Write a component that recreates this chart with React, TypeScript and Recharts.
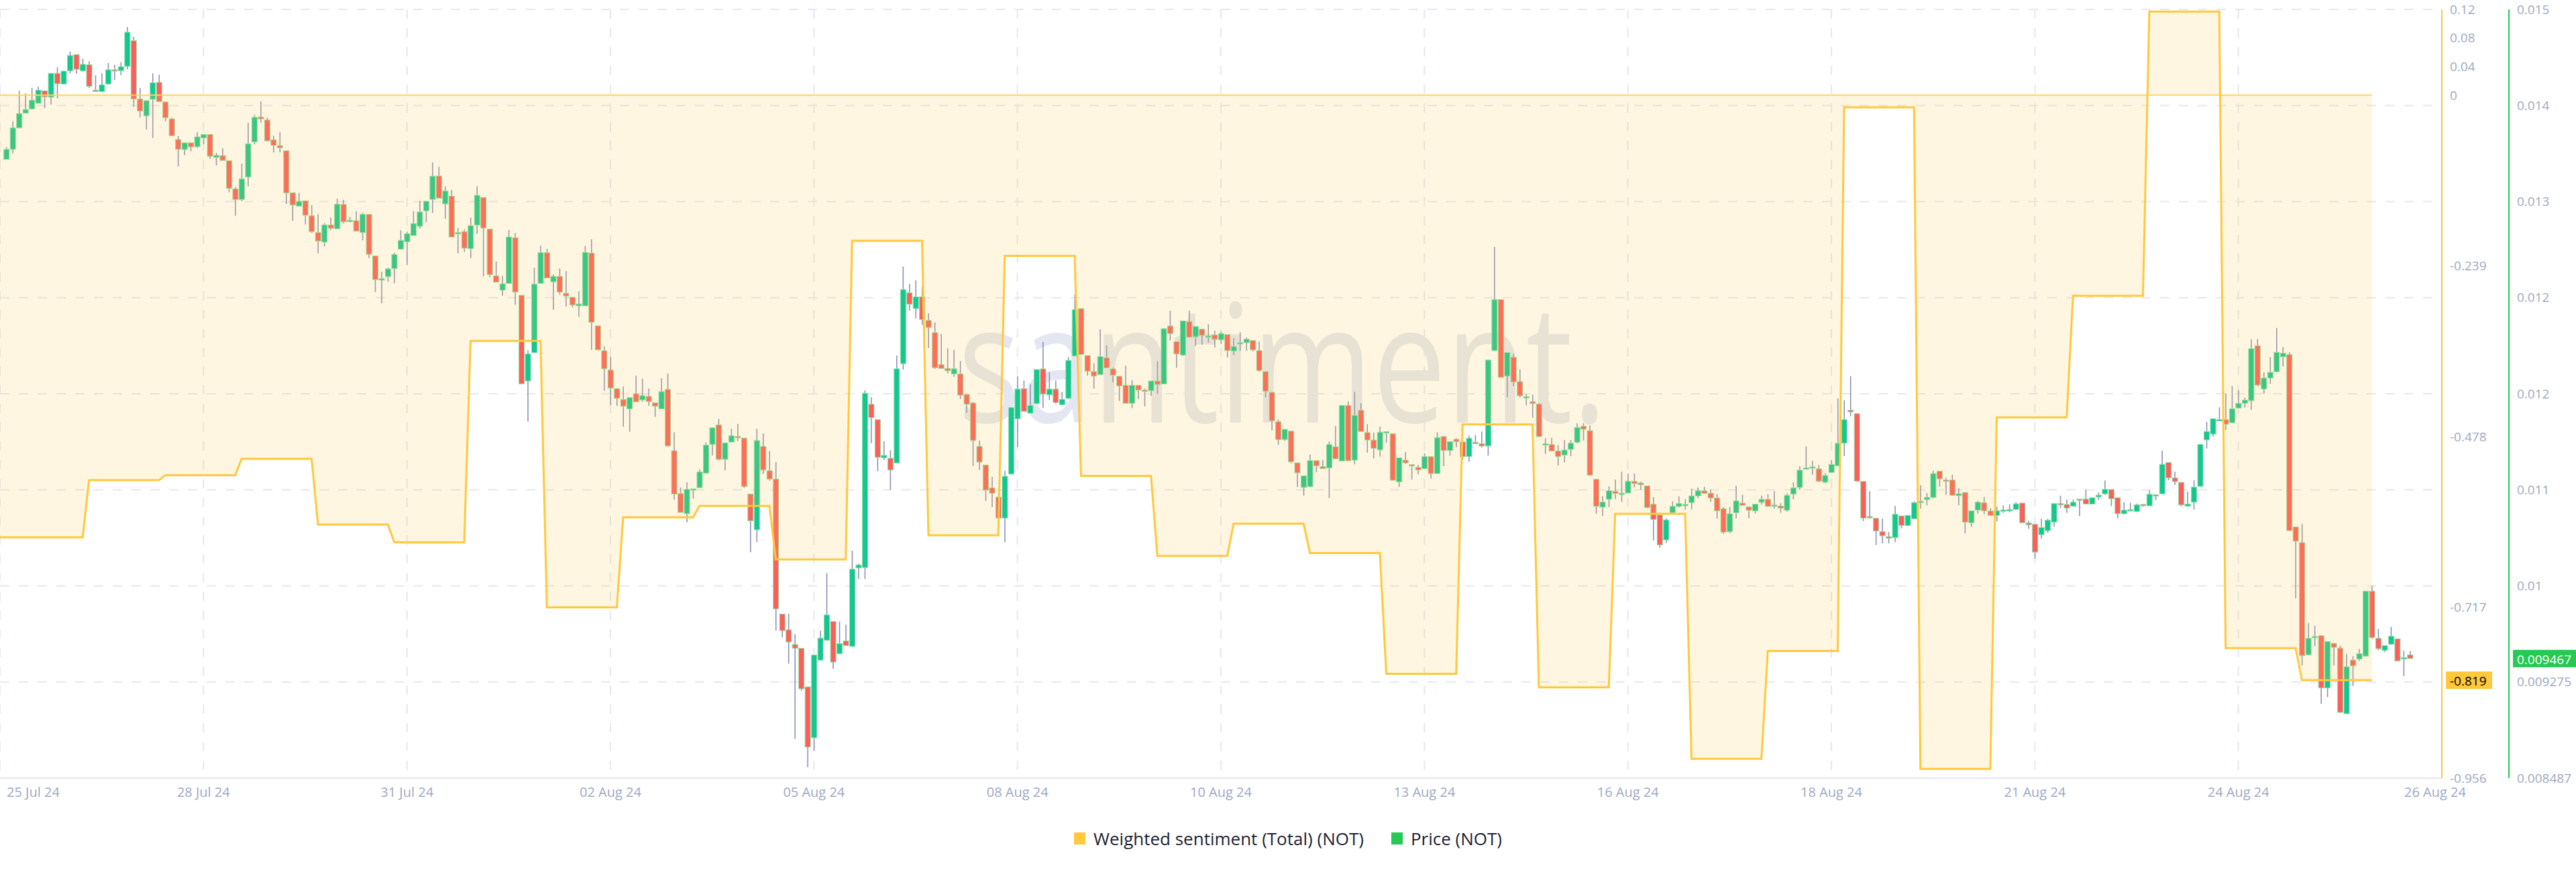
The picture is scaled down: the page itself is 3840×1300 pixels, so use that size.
import React from 'react';
import {
  ComposedChart,
  Bar,
  Area,
  XAxis,
  YAxis,
  CartesianGrid,
  ReferenceLine,
  Legend
} from 'recharts';

// x ticks sit every 32 two-hour candles; index -1 is the left edge of the plot
const dateTicks = [-1, 31, 63, 95, 127, 159, 191, 223, 255, 287, 319, 351, 383];
const dateLabels = [
  '25 Jul 24', '28 Jul 24', '31 Jul 24', '02 Aug 24', '05 Aug 24', '08 Aug 24', '10 Aug 24',
  '13 Aug 24', '16 Aug 24', '18 Aug 24', '21 Aug 24', '24 Aug 24', '26 Aug 24'
];

const sentimentTicks = [0.12, 0.08, 0.04, 0, -0.239, -0.478, -0.717, -0.956];
const priceTickLabels = ['0.008487', '0.009275', '0.01', '0.011', '0.012', '0.012', '0.013', '0.014', '0.015'];

const seriesNames = ['Weighted sentiment (Total) (NOT)', 'Price (NOT)'];
const seriesColors = ['#ffc83d', '#26c953'];

// one weighted sentiment value per day (12 candles)
const sentimentDaily = [
  -0.619, -0.539, -0.532, -0.509, -0.601, -0.626, -0.344, -0.717, -0.591, -0.575, -0.65,
  -0.204, -0.616, -0.225, -0.533, -0.645, -0.6, -0.641, -0.81, -0.461, -0.829, -0.586,
  -0.929, -0.778, -0.017, -0.943, -0.451, -0.281, 0.117, -0.774, -0.819
];

// 2h candles: [open, high, low, close] in millionths of a dollar
const candles: [number, number, number, number][] = [
  [13560, 13661, 13560, 13642], [13642, 13873, 13609, 13818], [13818, 14123, 13818, 13936], [13939, 14101, 13939, 13969], [13974, 14147, 13969, 14046], [14020, 14156, 14020, 14128],
  [14123, 14123, 13980, 14073], [14070, 14266, 14009, 14266], [14266, 14315, 14060, 14180], [14178, 14284, 14178, 14284], [14286, 14445, 14266, 14412], [14420, 14420, 14262, 14299],
  [14286, 14385, 14279, 14339], [14337, 14365, 14145, 14159], [14128, 14249, 14117, 14117], [14115, 14266, 14115, 14172], [14178, 14350, 14178, 14295], [14295, 14335, 14211, 14291],
  [14288, 14357, 14251, 14321], [14323, 14645, 14299, 14603], [14533, 14566, 13991, 14055], [14055, 14147, 13906, 13956], [13917, 14042, 13807, 14042], [14053, 14266, 13736, 14189],
  [14191, 14255, 14033, 14033], [14031, 14031, 13873, 13901], [13892, 13903, 13754, 13754], [13723, 13751, 13503, 13642], [13641, 13696, 13595, 13696], [13696, 13696, 13626, 13662],
  [13664, 13782, 13653, 13745], [13736, 13765, 13685, 13765], [13765, 13765, 13565, 13585], [13576, 13613, 13510, 13593], [13591, 13652, 13551, 13551], [13549, 13549, 13290, 13322],
  [13318, 13334, 13098, 13230], [13232, 13525, 13217, 13400], [13415, 13861, 13340, 13688], [13703, 13925, 13683, 13905], [13908, 14035, 13859, 13892], [13883, 13903, 13706, 13712],
  [13721, 13754, 13617, 13675], [13673, 13783, 13617, 13655], [13631, 13631, 13193, 13285], [13287, 13287, 13056, 13186], [13177, 13287, 13177, 13217], [13221, 13221, 13028, 13102],
  [13098, 13186, 12957, 12968], [12960, 13111, 12790, 12891], [12882, 13037, 12847, 13023], [13023, 13083, 12979, 12995], [12991, 13239, 12991, 13193], [13191, 13230, 13034, 13048],
  [13059, 13089, 13043, 13061], [13058, 13135, 12971, 12971], [12960, 13122, 12896, 13109], [13109, 13109, 12751, 12782], [12768, 12768, 12471, 12574], [12570, 12640, 12379, 12583],
  [12599, 12673, 12557, 12662], [12665, 12795, 12544, 12781], [12823, 12979, 12823, 12896], [12885, 12968, 12694, 12951], [12936, 13135, 12936, 13034], [13012, 13221, 12993, 13129],
  [13138, 13217, 13046, 13217], [13232, 13536, 13122, 13422], [13424, 13501, 13241, 13241], [13195, 13340, 13072, 13301], [13259, 13309, 12924, 12924], [12951, 12997, 12790, 12960],
  [12968, 12986, 12801, 12832], [12828, 13083, 12751, 13017], [13021, 13340, 12949, 13266], [13248, 13248, 12601, 12997], [12988, 12988, 12594, 12616], [12605, 12724, 12553, 12553],
  [12488, 12605, 12443, 12540], [12543, 12982, 12543, 12924], [12918, 12956, 12369, 12472], [12446, 12446, 11720, 11720], [11743, 11994, 11410, 11965], [11975, 12672, 11975, 12537],
  [12543, 12853, 12543, 12795], [12795, 12827, 12588, 12588], [12556, 12617, 12327, 12601], [12601, 12666, 12450, 12472], [12463, 12643, 12353, 12440], [12430, 12430, 12346, 12366],
  [12359, 12479, 12269, 12375], [12359, 12850, 12359, 12798], [12792, 12905, 11998, 12224], [12195, 12195, 11998, 11998], [11991, 12027, 11662, 11843], [11833, 11940, 11546, 11685],
  [11681, 11681, 11539, 11601], [11591, 11698, 11368, 11536], [11514, 11607, 11326, 11607], [11639, 11785, 11572, 11572], [11588, 11762, 11572, 11623], [11617, 11681, 11539, 11575],
  [11565, 11565, 11449, 11536], [11514, 11765, 11514, 11656], [11675, 11804, 11210, 11210], [11171, 11323, 10771, 10816], [10820, 10871, 10665, 10665], [10655, 10913, 10584, 10855],
  [10855, 10858, 10778, 10858], [10868, 11020, 10868, 10997], [10987, 11239, 10987, 11217], [11223, 11359, 11133, 11359], [11384, 11433, 11091, 11100], [11100, 11236, 11010, 11236],
  [11242, 11352, 11242, 11294], [11288, 11391, 11249, 11281], [11275, 11275, 10868, 10878], [10816, 10816, 10339, 10597], [10523, 11352, 10423, 11255], [11207, 11313, 10981, 11013],
  [11007, 11168, 10926, 10939], [10939, 11078, 9696, 9874], [9832, 9832, 9642, 9696], [9703, 9835, 9425, 9603], [9583, 9667, 8809, 9551], [9551, 9551, 9202, 9219],
  [9235, 9235, 8576, 8741], [8818, 9496, 8712, 9496], [9454, 9696, 9454, 9635], [9616, 10168, 9616, 9825], [9771, 9771, 9383, 9438], [9506, 9771, 9506, 9590],
  [9612, 9745, 9574, 9574], [9567, 10352, 9567, 10200], [10210, 10245, 10119, 10235], [10213, 11668, 10119, 11643], [11552, 11610, 11233, 11443], [11426, 11426, 11004, 11117],
  [11113, 11249, 11094, 11133], [11110, 11175, 10852, 11013], [11071, 11952, 11071, 11843], [11885, 12682, 11836, 12492], [12466, 12540, 12320, 12372], [12337, 12569, 12256, 12433],
  [12433, 12514, 12204, 12246], [12240, 12298, 12014, 12182], [12140, 12224, 11843, 11852], [11878, 12127, 11846, 11846], [11846, 12011, 11804, 11827], [11801, 11998, 11778, 11843],
  [11801, 11907, 11594, 11627], [11633, 11633, 11481, 11552], [11562, 11572, 11046, 11255], [11207, 11255, 11013, 11078], [11054, 11054, 10760, 10848], [10867, 10958, 10709, 10823],
  [10791, 10791, 10619, 10619], [10619, 11008, 10421, 10962], [10980, 11525, 10980, 11525], [11433, 11781, 11200, 11677], [11681, 11747, 11494, 11494], [11479, 11717, 11479, 11543],
  [11558, 11837, 11558, 11837], [11842, 12062, 11521, 11635], [11629, 11815, 11589, 11677], [11677, 11747, 11558, 11567], [11549, 11653, 11545, 11593], [11600, 11939, 11600, 11912],
  [11948, 12452, 11948, 12328], [12337, 12337, 11961, 11961], [11952, 11952, 11787, 11824], [11820, 11888, 11681, 11783], [11796, 12168, 11796, 11943], [11934, 12035, 11851, 11851],
  [11842, 11851, 11732, 11791], [11782, 11782, 11580, 11703], [11708, 11868, 11560, 11560], [11560, 11750, 11521, 11708], [11708, 11708, 11595, 11668], [11668, 11681, 11534, 11659],
  [11664, 11743, 11622, 11743], [11743, 11906, 11637, 11714], [11719, 12176, 11719, 12172], [12194, 12319, 12075, 12132], [12066, 12066, 11851, 11965], [11956, 12236, 11947, 12236],
  [12231, 12319, 12099, 12102], [12106, 12190, 12031, 12190], [12168, 12168, 12040, 12117], [12110, 12209, 12058, 12112], [12121, 12157, 12016, 12084], [12080, 12150, 12047, 12132],
  [12124, 12124, 11937, 11992], [11989, 12095, 11956, 12025], [12055, 12143, 11989, 12057], [12057, 12099, 11992, 12086], [12075, 12075, 11985, 11998], [11992, 12066, 11818, 11829],
  [11820, 11820, 11607, 11659], [11650, 11650, 11338, 11417], [11409, 11428, 11219, 11263], [11263, 11347, 11252, 11347], [11332, 11332, 11068, 11081], [11072, 11072, 10874, 10990],
  [10870, 10966, 10803, 10966], [10876, 11140, 10876, 11090], [11090, 11090, 10993, 11048], [11041, 11096, 11024, 11024], [11030, 11246, 10784, 11222], [11204, 11375, 11100, 11105],
  [11087, 11543, 11087, 11543], [11543, 11576, 11089, 11089], [11094, 11653, 11059, 11461], [11503, 11562, 11329, 11329], [11320, 11389, 11155, 11259], [11259, 11320, 11109, 11191],
  [11178, 11369, 11123, 11323], [11325, 11329, 11237, 11327], [11310, 11310, 10929, 10929], [10916, 11114, 10874, 11114], [11094, 11160, 11063, 11072], [11057, 11061, 10935, 11055],
  [11035, 11054, 10977, 11013], [11024, 11149, 11024, 11123], [11123, 11123, 10944, 10984], [10984, 11323, 10984, 11279], [11288, 11288, 11045, 11173], [11173, 11246, 11131, 11246],
  [11265, 11274, 11200, 11246], [11243, 11255, 11100, 11123], [11123, 11296, 11081, 11274], [11241, 11301, 11228, 11233], [11228, 11329, 11197, 11210], [11210, 11915, 11131, 11915],
  [11992, 12841, 11992, 12410], [12410, 12410, 11772, 11772], [11783, 11976, 11609, 11976], [11939, 11967, 11701, 11736], [11738, 11838, 11609, 11622], [11613, 11635, 11543, 11615],
  [11573, 11631, 11442, 11558], [11554, 11562, 11283, 11287], [11222, 11274, 11145, 11228], [11222, 11277, 11167, 11169], [11169, 11219, 11050, 11123], [11136, 11259, 11076, 11177],
  [11182, 11259, 11127, 11233], [11241, 11397, 11232, 11362], [11373, 11397, 11255, 11347], [11336, 11378, 10966, 10971], [10938, 10938, 10654, 10715], [10709, 10797, 10636, 10751],
  [10773, 10880, 10709, 10843], [10839, 10935, 10773, 10821], [10821, 10999, 10751, 10823], [10825, 10984, 10819, 10922], [10920, 10986, 10870, 10902], [10907, 10916, 10852, 10892],
  [10883, 10883, 10700, 10705], [10733, 10792, 10436, 10608], [10645, 10663, 10375, 10399], [10440, 10617, 10416, 10604], [10663, 10757, 10654, 10715], [10715, 10797, 10705, 10738],
  [10727, 10773, 10687, 10731], [10746, 10861, 10691, 10801], [10801, 10870, 10782, 10843], [10843, 10876, 10821, 10821], [10823, 10852, 10751, 10784], [10784, 10815, 10614, 10678],
  [10696, 10709, 10489, 10504], [10507, 10711, 10495, 10654], [10663, 10883, 10617, 10760], [10742, 10810, 10724, 10724], [10711, 10711, 10617, 10683], [10678, 10733, 10656, 10733],
  [10748, 10803, 10729, 10773], [10773, 10815, 10709, 10715], [10724, 10839, 10696, 10726], [10718, 10742, 10663, 10700], [10683, 10821, 10672, 10806], [10815, 10913, 10773, 10867],
  [10870, 11045, 10852, 11012], [11021, 11206, 11021, 11030], [11030, 11090, 10975, 11039], [11023, 11054, 10913, 10922], [10913, 10986, 10903, 10968], [10993, 11094, 10993, 11059],
  [11048, 11600, 11048, 11232], [11233, 11585, 11127, 11426], [11503, 11783, 11453, 11490], [11475, 11475, 10916, 10922], [10920, 10920, 10595, 10619], [10632, 10839, 10614, 10623],
  [10617, 10617, 10399, 10513], [10509, 10614, 10412, 10473], [10467, 10504, 10412, 10454], [10458, 10718, 10421, 10650], [10637, 10637, 10535, 10559], [10559, 10645, 10553, 10641],
  [10614, 10757, 10614, 10746], [10748, 10889, 10696, 10757], [10770, 10825, 10724, 10788], [10788, 11008, 10782, 10984], [11004, 11004, 10876, 10940], [10931, 10949, 10810, 10925],
  [10931, 10975, 10803, 10806], [10803, 10865, 10724, 10819], [10829, 10829, 10494, 10586], [10581, 10679, 10549, 10679], [10684, 10760, 10655, 10749], [10744, 10792, 10651, 10679],
  [10677, 10701, 10640, 10640], [10640, 10712, 10592, 10679], [10681, 10723, 10662, 10686], [10686, 10731, 10666, 10690], [10690, 10749, 10690, 10736], [10742, 10742, 10581, 10581],
  [10579, 10597, 10531, 10564], [10568, 10568, 10286, 10340], [10483, 10614, 10451, 10542], [10516, 10614, 10499, 10601], [10586, 10738, 10549, 10738], [10738, 10803, 10701, 10736],
  [10731, 10771, 10662, 10701], [10716, 10771, 10712, 10749], [10775, 10775, 10636, 10766], [10775, 10851, 10734, 10734], [10734, 10786, 10734, 10786], [10792, 10829, 10766, 10807],
  [10818, 10927, 10810, 10855], [10853, 10853, 10716, 10777], [10786, 10786, 10618, 10655], [10655, 10749, 10647, 10684], [10686, 10744, 10679, 10688], [10673, 10738, 10668, 10727],
  [10731, 10731, 10712, 10720], [10720, 10847, 10720, 10814], [10810, 10810, 10766, 10807], [10818, 11171, 10818, 11060], [11075, 11075, 10929, 10949], [10949, 10999, 10890, 10918],
  [10912, 10912, 10716, 10727], [10716, 10836, 10716, 10734], [10749, 10929, 10688, 10873], [10879, 11223, 10879, 11223], [11260, 11408, 11190, 11329], [11308, 11434, 11288, 11434],
  [11425, 11527, 11419, 11427], [11427, 11640, 11340, 11388], [11401, 11701, 11401, 11516], [11521, 11667, 11521, 11560], [11560, 11608, 11525, 11586], [11582, 12084, 11506, 12008],
  [12032, 12086, 11699, 11710], [11677, 11814, 11640, 11767], [11767, 11938, 11721, 11814], [11819, 12178, 11819, 11978], [11941, 12021, 11862, 11971], [11960, 11978, 10516, 10516],
  [10546, 10546, 9959, 10429], [10418, 10570, 9411, 9492], [9498, 9759, 9498, 9633], [9646, 9737, 9568, 9648], [9655, 9655, 9096, 9226], [9226, 9607, 9150, 9607],
  [9592, 9592, 9411, 9559], [9553, 9574, 9020, 9026], [9015, 9505, 9015, 9400], [9455, 9487, 9242, 9407], [9463, 9546, 9448, 9507], [9487, 10020, 9487, 10020],
  [10020, 10064, 9629, 9640], [9633, 9711, 9535, 9548], [9535, 9574, 9520, 9574], [9585, 9727, 9579, 9650], [9629, 9629, 9444, 9448], [9472, 9531, 9324, 9474],
  [9498, 9531, 9467, 9467]
];

const PRICE_MIN = 0.008487;
const PRICE_MAX = 0.01479;
const priceStep = (PRICE_MAX - PRICE_MIN) / (priceTickLabels.length - 1);
const priceTicks = priceTickLabels.map((_, k) => PRICE_MIN + k * priceStep);

const lastPrice = candles[candles.length - 1][3] / 1e6;
const lastSentiment = sentimentDaily[sentimentDaily.length - 1];

// axis ids: "a" = sentiment (inner right axis), "b" = price (outer right axis)
const SENT = 'a';
const PRICE = 'b';

const rows = [];
for (let i = -1; i < candles.length; i++) {
  const day = Math.max(0, Math.floor((i - 1) / 12));
  const c = i >= 0 ? candles[i] : null;
  rows.push({
    i,
    sentiment: day < sentimentDaily.length ? sentimentDaily[day] : null,
    open: c ? c[0] / 1e6 : null,
    close: c ? c[3] / 1e6 : null,
    high: c ? Math.max(c[0], c[1], c[3]) / 1e6 : null,
    low: c ? Math.min(c[0], c[2], c[3]) / 1e6 : null
  });
}

const FONT = '"Open Sans", "Liberation Sans", Arial, sans-serif';
const AXIS_TEXT = '#9ea7c4';

const Candle = (props: any) => {
  const { x, y, width, height, payload } = props;
  if (!payload || payload.open == null || isNaN(y)) return <g />;
  const top = Math.min(y, y + height);
  const h = Math.abs(height);
  const { open, close, high, low } = payload;
  const span = high - low;
  const py = (v: number) => (span > 0 ? top + ((high - v) / span) * h : top);
  const cx = x + width / 2;
  const up = close >= open;
  const bTop = py(Math.max(open, close));
  const bBot = py(Math.min(open, close));
  return (
    <g>
      <line x1={cx} x2={cx} y1={top} y2={top + h} stroke="#8b92b5" strokeWidth={1.6} />
      <rect
        x={cx - 4}
        y={bTop}
        width={8}
        height={Math.max(bBot - bTop, 2)}
        fill={up ? '#14c690' : '#ff5d5b'}
        stroke="#8fe0a4"
        strokeWidth={1}
      />
    </g>
  );
};

const DateTick = (props: any) => {
  const { x, y, payload } = props;
  const k = dateTicks.indexOf(payload.value);
  const first = k === 0;
  const last = k === dateTicks.length - 1;
  return (
    <text
      x={first ? x + 10 : last ? x - 10 : x}
      y={y + 20}
      textAnchor={first ? 'start' : 'middle'}
      dominantBaseline="central"
      fill={AXIS_TEXT}
      fontSize={20}
      fontFamily={FONT}
    >
      {dateLabels[k]}
    </text>
  );
};

const SentimentBadge = (props: any) => {
  const vb = props.viewBox;
  const bx = vb.x + vb.width + 6;
  return (
    <g>
      <rect x={bx} y={vb.y - 13} width={69} height={26} fill={seriesColors[0]} />
      <text x={bx + 6} y={vb.y + 1} dominantBaseline="central" fontSize={19} fontFamily={FONT} fill="#000">
        {lastSentiment.toFixed(3)}
      </text>
    </g>
  );
};

const PriceBadge = (props: any) => {
  const vb = props.viewBox;
  const bx = vb.x + vb.width + 106;
  return (
    <g>
      <rect x={bx} y={vb.y - 13} width={94} height={26} fill={seriesColors[1]} />
      <text x={bx + 6} y={vb.y + 1} dominantBaseline="central" fontSize={19} fontFamily={FONT} fill="#fff">
        {lastPrice.toFixed(6)}
      </text>
    </g>
  );
};

const LegendContent = () => (
  <div
    style={{
      display: 'flex',
      justifyContent: 'center',
      alignItems: 'center',
      height: 100,
      fontFamily: FONT,
      fontSize: 26,
      color: '#1e2235'
    }}
  >
    {seriesNames.map((name, k) => (
      <div key={name} style={{ display: 'flex', alignItems: 'center', marginLeft: k ? 41 : 0 }}>
        <span style={{ width: 17, height: 18, background: seriesColors[k], marginRight: 12, display: 'inline-block' }} />
        <span>{name}</span>
      </div>
    ))}
  </div>
);

export default function App() {
  return (
    <div style={{ position: 'absolute', left: 0, top: 0, width: 3840, height: 1300, background: '#fff' }}>
      <svg width={3840} height={1300} style={{ position: 'absolute', left: 0, top: 0 }}>
        <text
          x={1428}
          y={630}
          fontFamily={FONT}
          fontSize={245}
          fill="#e4e7f1"
          textLength={967}
          lengthAdjust="spacingAndGlyphs"
        >
          santiment.
        </text>
      </svg>
      <div style={{ position: 'absolute', left: 0, top: 0 }}>
        <ComposedChart width={3840} height={1300} data={rows} margin={{ top: 14, right: 0, bottom: 0, left: 0 }}>
          <CartesianGrid xAxisId="x" yAxisId={PRICE} stroke="#e4e8f1" strokeWidth={2} strokeDasharray="14 14" />
          <XAxis
            xAxisId="x"
            dataKey="i"
            type="number"
            domain={[-1, 383]}
            ticks={dateTicks}
            interval={0}
            allowDataOverflow
            tickLine={false}
            tickSize={0}
            tickMargin={0}
            height={40}
            axisLine={{ stroke: '#e3e7f0', strokeWidth: 2 }}
            tick={<DateTick />}
          />
          <YAxis
            yAxisId={PRICE}
            orientation="right"
            domain={[priceTicks[0], priceTicks[priceTicks.length - 1]]}
            ticks={priceTicks}
            interval={0}
            allowDataOverflow
            width={100}
            tickLine={false}
            tickSize={0}
            tickMargin={12}
            axisLine={{ stroke: seriesColors[1], strokeWidth: 2 }}
            tick={{ fill: AXIS_TEXT, fontSize: 19, fontFamily: FONT }}
            tickFormatter={(v: number) => {
              const k = priceTicks.findIndex((t) => Math.abs(t - v) < 1e-9);
              return k >= 0 ? priceTickLabels[k] : '';
            }}
          />
          <YAxis
            yAxisId={SENT}
            orientation="right"
            domain={[-0.956, 0.12]}
            ticks={sentimentTicks}
            interval={0}
            allowDataOverflow
            width={100}
            tickLine={false}
            tickSize={0}
            tickMargin={12}
            axisLine={{ stroke: seriesColors[0], strokeWidth: 2 }}
            tick={{ fill: AXIS_TEXT, fontSize: 19, fontFamily: FONT }}
          />
          <Bar
            xAxisId="x"
            yAxisId={PRICE}
            dataKey={(d: any) => (d.open == null ? null : [d.low, d.high])}
            barSize={8}
            shape={<Candle />}
            isAnimationActive={false}
          />
          <Area
            xAxisId="x"
            yAxisId={SENT}
            type="linear"
            dataKey="sentiment"
            baseValue={0}
            stroke={seriesColors[0]}
            strokeWidth={3}
            fill="#ffc94f"
            fillOpacity={0.17}
            dot={false}
            activeDot={false}
            connectNulls={false}
            isAnimationActive={false}
            zIndex={500}
          />
          <ReferenceLine
            xAxisId="x"
            yAxisId={SENT}
            segment={[{ x: -1, y: 0 }, { x: 372, y: 0 }]}
            stroke="#ffd36c"
            strokeWidth={2}
          />
          <ReferenceLine xAxisId="x" yAxisId={SENT} y={lastSentiment} stroke="none" label={(p: any) => <SentimentBadge {...p} />} />
          <ReferenceLine xAxisId="x" yAxisId={PRICE} y={lastPrice} stroke="none" label={(p: any) => <PriceBadge {...p} />} />
          <Legend verticalAlign="bottom" height={100} content={() => <LegendContent />} />
        </ComposedChart>
      </div>
    </div>
  );
}
